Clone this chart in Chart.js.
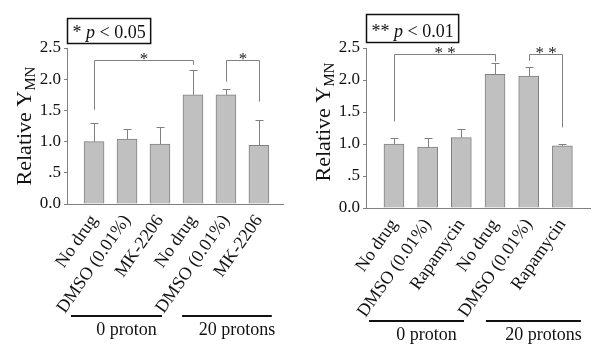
<!DOCTYPE html>
<html>
<head>
<meta charset="utf-8">
<script src="https://cdn.jsdelivr.net/npm/chart.js@4"></script>
<style>
  html, body { margin: 0; padding: 0; background: #fff; }
  #wrap { position: relative; width: 600px; height: 354px; overflow: hidden; }
  canvas { position: absolute; top: 0; }
  #cLeft { left: 0; }
  #cRight { left: 300px; }
</style>
</head>
<body>
<div id="wrap">
  <canvas id="cLeft" width="300" height="354"></canvas>
  <canvas id="cRight" width="300" height="354"></canvas>
</div>
<script>
// data
const labelsLeft = ['No drug', 'DMSO (0.01%)', 'MK-2206', 'No drug', 'DMSO (0.01%)', 'MK-2206'];
const valuesLeft = [1.00, 1.04, 0.96, 1.75, 1.75, 0.94];
const errorsLeft = [0.30, 0.16, 0.27, 0.39, 0.10, 0.40];

const labelsRight = ['No drug', 'DMSO (0.01%)', 'Rapamycin', 'No drug', 'DMSO (0.01%)', 'Rapamycin'];
const valuesRight = [1.00, 0.95, 1.10, 2.09, 2.06, 0.97];
const errorsRight = [0.10, 0.15, 0.13, 0.18, 0.14, 0.025];

const yTickLabels = { 0: '0.0', 0.5: '.5', 1: '1.0', 1.5: '1.5', 2: '2.0', 2.5: '2.5' };
const groupNames = ['0 proton', '20 protons'];

// [from bar, to bar, bracket top, left leg end, right leg end]
const bracketsLeft = [[0, 3, 2.31, 1.51, 2.23], [4, 5, 2.31, 1.96, 1.64]];
const bracketsRight = [[0, 3, 2.41, 1.35, 2.29], [4, 5, 2.41, 2.30, 1.26]];

const FONT = "'Liberation Serif', 'Times New Roman', serif";
const GRAY = '#808080';

function makeChart(id, o) {
    const data = o.values.map((v, i) => ({ x: i, y: v }));

    const extras = {
        id: 'extras',
        afterDatasetsDraw(chart) {
            const ctx = chart.ctx;
            const xs = chart.scales.x, ys = chart.scales.y;
            const area = chart.chartArea;
            ctx.save();

            // error bars (upper only)
            ctx.strokeStyle = GRAY;
            ctx.lineWidth = 1;
            o.values.forEach((v, i) => {
                const x = Math.round(xs.getPixelForValue(i)) + 0.5;
                const y0 = ys.getPixelForValue(v);
                const y1 = Math.round(ys.getPixelForValue(v + o.errors[i])) + 0.5;
                ctx.beginPath();
                ctx.moveTo(x, y0);
                ctx.lineTo(x, y1);
                ctx.moveTo(x - 4, y1);
                ctx.lineTo(x + 4, y1);
                ctx.stroke();
            });

            // significance brackets
            ctx.font = '17px ' + FONT;
            ctx.fillStyle = '#222';
            ctx.textAlign = 'center';
            ctx.textBaseline = 'alphabetic';
            o.brackets.forEach(b => {
                const xa = Math.round(xs.getPixelForValue(b[0])) + 0.5;
                const xb = Math.round(xs.getPixelForValue(b[1])) + 0.5;
                const yt = Math.round(ys.getPixelForValue(b[2])) + 0.5;
                ctx.beginPath();
                ctx.moveTo(xa, ys.getPixelForValue(b[3]));
                ctx.lineTo(xa, yt);
                ctx.lineTo(xb, yt);
                ctx.lineTo(xb, ys.getPixelForValue(b[4]));
                ctx.stroke();
                ctx.fillText(o.stars.split('').join(' '), (xa + xb) / 2, yt + 3);
            });

            // p-value box
            ctx.textAlign = 'left';
            const parts = [[o.stars + ' ', ''], ['p', 'italic '], [' < ' + o.pval, '']];
            let tw = 0;
            parts.forEach(p => { ctx.font = p[1] + '18px ' + FONT; tw += ctx.measureText(p[0]).width; });
            const bx = Math.round(area.left) + 0.5, bh = o.boxH, by = o.boxTop + 0.5;
            ctx.strokeStyle = '#111';
            ctx.lineWidth = 1.5;
            ctx.strokeRect(bx, by, tw + 10, bh);
            let tx = bx + 5;
            ctx.fillStyle = '#111';
            parts.forEach(p => {
                ctx.font = p[1] + '18px ' + FONT;
                ctx.fillText(p[0], tx, by + bh - 6);
                tx += ctx.measureText(p[0]).width;
            });

            // group underlines and names
            ctx.lineWidth = 2;
            ctx.strokeStyle = '#111';
            ctx.font = '18px ' + FONT;
            ctx.textAlign = 'center';
            o.groups.forEach((g, k) => {
                const x0 = xs.getPixelForValue(g[0]), x1 = xs.getPixelForValue(g[1]);
                ctx.beginPath();
                ctx.moveTo(x0, o.groupY);
                ctx.lineTo(x1, o.groupY);
                ctx.stroke();
                ctx.fillText(groupNames[k], (x0 + x1) / 2 + 10, o.groupY + 19);
            });

            // y axis title with subscript
            ctx.translate(o.titleX, o.titleY);
            ctx.rotate(-Math.PI / 2);
            ctx.font = '22px ' + FONT;
            const w1 = ctx.measureText('Relative Y').width;
            ctx.font = '15px ' + FONT;
            const w2 = ctx.measureText('MN').width;
            ctx.textAlign = 'left';
            ctx.font = '22px ' + FONT;
            ctx.fillText('Relative Y', -(w1 + w2) / 2, 0);
            ctx.font = '15px ' + FONT;
            ctx.fillText('MN', -(w1 + w2) / 2 + w1, 4);
            ctx.restore();
        }
    };

    return new Chart(document.getElementById(id), {
        type: 'bar',
        data: {
            datasets: [{
                data: data,
                backgroundColor: '#c0c0c0',
                borderColor: GRAY,
                borderWidth: 1,
                barThickness: 20
            }]
        },
        options: {
            responsive: false,
            animation: false,
            devicePixelRatio: 1,
            layout: { padding: { left: 0, right: o.padRight, top: o.padTop, bottom: 0 } },
            plugins: { legend: { display: false }, tooltip: { enabled: false } },
            scales: {
                x: {
                    type: 'linear',
                    offset: false,
                    min: o.xMin,
                    max: o.xMax,
                    afterFit: s => { s.height = o.xHeight; },
                    grid: { display: true, drawOnChartArea: false, drawTicks: false, offset: false },
                    border: { display: true, color: GRAY, width: 1 },
                    ticks: {
                        stepSize: 1,
                        autoSkip: false,
                        includeBounds: false,
                        minRotation: 55,
                        maxRotation: 55,
                        padding: 7,
                        color: '#111',
                        font: { family: FONT, size: 18 },
                        callback: v => Number.isInteger(v) ? o.labels[v] : ''
                    }
                },
                y: {
                    min: 0,
                    max: 2.5,
                    afterFit: s => { s.width = o.yWidth; },
                    grid: { drawOnChartArea: false, drawTicks: true, tickLength: 3, color: GRAY },
                    border: { display: true, color: GRAY, width: 1 },
                    ticks: {
                        stepSize: 0.5,
                        padding: 3,
                        color: '#111',
                        font: { family: FONT, size: 17 },
                        callback: v => yTickLabels[v] ?? ''
                    }
                }
            }
        },
        plugins: [extras]
    });
}

makeChart('cLeft', {
    labels: labelsLeft, values: valuesLeft, errors: errorsLeft, brackets: bracketsLeft,
    stars: '*', pval: '0.05',
    xMin: -0.82, xMax: 5.73,
    yWidth: 67, xHeight: 150, padTop: 48, padRight: 17,
    boxTop: 18, boxH: 25,
    groups: [[-0.70, 2.06], [2.67, 5.39]], groupY: 316,
    titleX: 31, titleY: 126
});

makeChart('cRight', {
    labels: labelsRight, values: valuesRight, errors: errorsRight, brackets: bracketsRight,
    stars: '**', pval: '0.01',
    xMin: -0.83, xMax: 5.82,
    yWidth: 66, xHeight: 146, padTop: 48, padRight: 10,
    boxTop: 14, boxH: 28,
    groups: [[-0.74, 2.08], [2.73, 5.55]], groupY: 321,
    titleX: 30, titleY: 122
});
</script>
</body>
</html>
